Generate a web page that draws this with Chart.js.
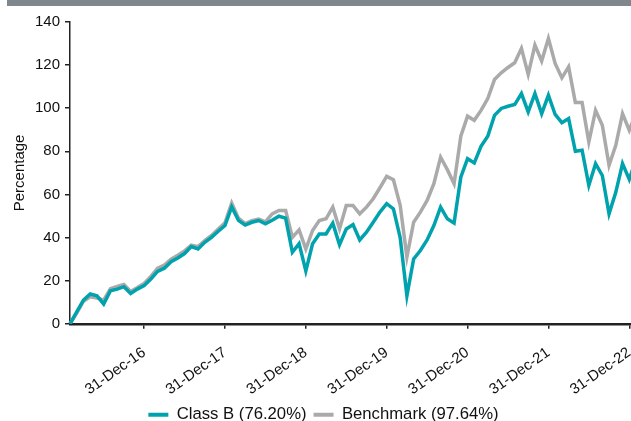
<!DOCTYPE html>
<html>
<head>
<meta charset="utf-8">
<script src="https://cdn.jsdelivr.net/npm/chart.js@4/dist/chart.umd.min.js"></script>
<style>
    html, body { margin: 0; padding: 0; background: #fff; overflow: hidden; }
    #wrap { position: relative; width: 631px; height: 421px; overflow: hidden; }
    #topbar { position: absolute; left: 7px; top: 0; width: 640px; height: 6px; background: #7f868c; z-index: 2; }
    #chart { position: absolute; left: 0; top: 0; }
</style>
</head>
<body>
<div id="wrap">
    <div id="topbar"></div>
    <canvas id="chart" width="647" height="433"></canvas>
</div>
<script>
// Month-end dates, Jan-16 .. Jan-23
const monthNames = ['Jan', 'Feb', 'Mar', 'Apr', 'May', 'Jun', 'Jul', 'Aug', 'Sep', 'Oct', 'Nov', 'Dec'];
const months = [];
for (let y = 2016; y <= 2023; y++) {
    for (let m = 0; m < 12 && months.length < 85; m++) {
        const day = new Date(y, m + 1, 0).getDate();
        months.push(day + '-' + monthNames[m] + '-' + String(y).slice(2));
    }
}

const classB = [
    0, 5.5, 11, 13.8, 13, 9.2, 15.3, 16.1, 17.2, 14.1, 16.1, 17.7,
    20.8, 24.3, 25.8, 28.8, 30.5, 32.6, 35.8, 34.7, 37.8, 40.1, 42.9, 45.6,
    54.2, 48, 45.8, 47.1, 47.9, 46.4, 48, 49.9, 49, 33.2, 37.2, 24.5,
    37.1, 41.7, 41.7, 46.7, 36.7, 44, 46, 38.9, 42.5, 47.1, 51.8, 55.7,
    53.3, 40, 13, 30.1, 34, 38.9, 45.6, 54.1, 48.7, 46.7, 68, 76.6,
    74.6, 82.3, 87, 96.7, 99.9, 100.9, 101.7, 106.8, 98.3, 106.8, 97.5, 106,
    97.1, 93.3, 95.2, 80, 80.5, 64.2, 74.3, 68.8, 51, 61, 74.3, 67,
    76.2
];

const benchmark = [
    0, 5, 10.5, 12.5, 12, 11, 16.3, 17.3, 18.2, 15, 16.8, 18.7,
    22, 25.8, 27.2, 30, 31.8, 33.8, 36.5, 35.8, 38.6, 41, 44, 46.8,
    56, 49, 46.5, 47.8, 48.6, 47.3, 51, 52.6, 52.6, 40.1, 43.6, 34.7,
    43.3, 47.9, 48.7, 54.1, 44, 54.9, 54.9, 51, 54.1, 58, 63.1, 68.4,
    66.8, 55, 31, 47.1, 51.8, 57.2, 65, 77.3, 71.5, 65, 87, 96.3,
    94.4, 99, 104.5, 113.3, 116.4, 118.9, 121.1, 127.8, 115.7, 129.3, 121.9, 132.4,
    120.8, 114.1, 119.2, 102.6, 102.6, 84.3, 99, 92.1, 73.5, 82.8, 97.5, 89.8,
    97.64
];

const seriesNames = ['Class B (76.20%)', 'Benchmark (97.64%)'];
const yTicks = [0, 20, 40, 60, 80, 100, 120, 140];

const TEAL = '#00a3ad';
const GREY = '#aaaaaa';
const FONT = "'Liberation Sans', Arial, sans-serif";

Chart.defaults.font.family = FONT;
Chart.defaults.font.size = 15;
Chart.defaults.color = '#111';

new Chart(document.getElementById('chart'), {
    type: 'line',
    data: {
        labels: months,
        datasets: [
            {
                label: seriesNames[0],
                data: classB,
                borderColor: TEAL,
                backgroundColor: TEAL,
                borderWidth: 3.5,
                pointRadius: 0,
                tension: 0
            },
            {
                label: seriesNames[1],
                data: benchmark,
                borderColor: GREY,
                backgroundColor: GREY,
                borderWidth: 3.5,
                pointRadius: 0,
                tension: 0
            }
        ]
    },
    options: {
        responsive: false,
        animation: false,
        devicePixelRatio: 1,
        // left padding keeps the legend centred where the original had it
        layout: { padding: { top: 22, right: 11, left: 11, bottom: 0 } },
        scales: {
            x: {
                type: 'category',
                offset: false,
                afterBuildTicks: (scale) => {
                    scale.ticks = scale.ticks.filter(t => months[t.value].indexOf('-Dec-') > 0);
                },
                afterFit: (scale) => {
                    scale.height = 75.5;
                    scale.paddingLeft = 0;
                    scale.paddingRight = 0;
                },
                grid: { display: true, drawOnChartArea: false, drawTicks: true, tickLength: 5, color: '#222', lineWidth: 1.5 },
                border: { display: true, color: '#222', width: 2.5 },
                ticks: { autoSkip: false, maxRotation: 35, minRotation: 35, padding: 15, color: '#111' }
            },
            y: {
                min: 0,
                max: 140,
                afterBuildTicks: (scale) => { scale.ticks = yTicks.map(v => ({ value: v })); },
                afterFit: (scale) => { scale.width = 59; },
                grid: { display: true, drawOnChartArea: false, drawTicks: true, tickLength: 5, color: '#222', lineWidth: 1.5 },
                border: { display: true, color: '#222', width: 1.5 },
                ticks: { padding: 5, color: '#111' },
                title: { display: true, text: 'Percentage', color: '#111', padding: { top: 0, bottom: 0 } }
            }
        },
        plugins: {
            legend: {
                position: 'bottom',
                labels: {
                    boxWidth: 20,
                    boxHeight: 4,
                    padding: 7,
                    color: '#111',
                    font: { size: 16.7 },
                    generateLabels: (chart) => Chart.defaults.plugins.legend.labels.generateLabels(chart)
                        .map(l => Object.assign(l, { lineWidth: 0 }))
                }
            },
            tooltip: { enabled: false }
        }
    }
});
</script>
</body>
</html>
